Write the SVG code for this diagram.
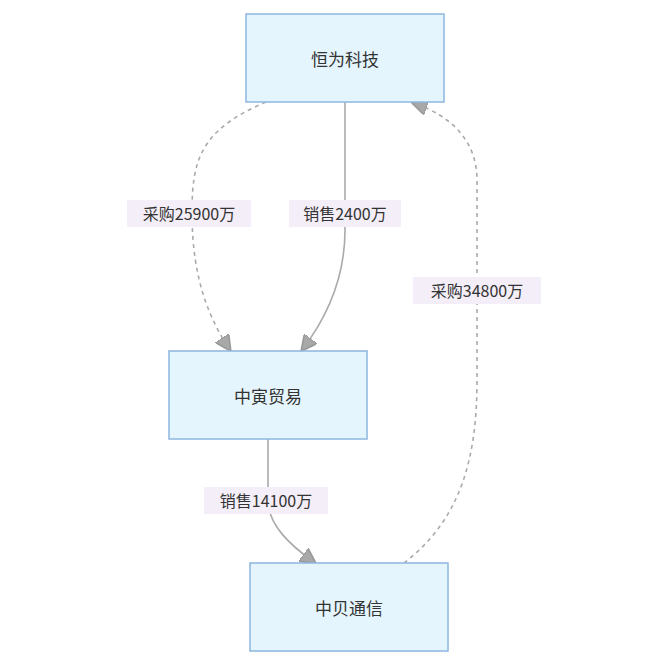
<svg xmlns="http://www.w3.org/2000/svg" width="667" height="667" viewBox="0 0 667 667">
<style>
.n{fill:#e5f5fd;stroke:#8db7df;stroke-width:1.5}
.t{font-family:"Noto Sans CJK SC",sans-serif;font-size:17px;fill:#333;text-anchor:middle;dominant-baseline:central}
.e{fill:none;stroke:#aaa;stroke-width:1.6}
.d{stroke-dasharray:4 4}
.lb{fill:#f3eef8}
.l{font-family:"Noto Sans CJK SC",sans-serif;font-size:16px;fill:#333;text-anchor:middle;dominant-baseline:central}
</style>
<defs><marker id="a" viewBox="0 0 10 10" refX="9" refY="5" markerWidth="9" markerHeight="9" orient="auto" markerUnits="userSpaceOnUse"><path d="M0,0L10,5L0,10z" fill="#a8a8a8" stroke="#999"/></marker>
<marker id="a2" viewBox="0 0 10 10" refX="9" refY="5" markerWidth="16" markerHeight="16" orient="auto" markerUnits="userSpaceOnUse"><path d="M0,0L10,5L0,10z" fill="#a8a8a8" stroke="#999"/></marker></defs>
<rect width="667" height="667" fill="#fff"/>
<g id="edges">
<path class="e d" d="M266,102 C200,130 192,160 192,213 C192,280 210,320 230,350" marker-end="url(#a2)"/>
<path class="e" d="M345,102 L345,230 C345,280 325,320 302,350" marker-end="url(#a2)"/>
<path class="e" d="M268,439 L268,500 C268,525 290,545 315,563" marker-end="url(#a2)"/>
<path class="e d" d="M404,563 C460,520 477,460 477,380 L477,180 C477,140 450,115 413,103" marker-end="url(#a2)"/>
<rect class="lb" x="127" y="200" width="124" height="27"/><text class="l" x="189" y="213">采购25900万</text>
<rect class="lb" x="289" y="200" width="112" height="27"/><text class="l" x="345" y="213">销售2400万</text>
<rect class="lb" x="204" y="487" width="124" height="27"/><text class="l" x="266" y="500">销售14100万</text>
<rect class="lb" x="413" y="277" width="128" height="27"/><text class="l" x="477" y="290">采购34800万</text>
</g>
<g id="n1"><rect class="n" x="246" y="14" width="198" height="88"/><text class="t" x="345" y="58">恒为科技</text></g>
<g id="n2"><rect class="n" x="169" y="351" width="198" height="88"/><text class="t" x="268" y="395">中寅贸易</text></g>
<g id="n3"><rect class="n" x="250" y="563" width="198" height="88"/><text class="t" x="349" y="607">中贝通信</text></g>
</svg>
